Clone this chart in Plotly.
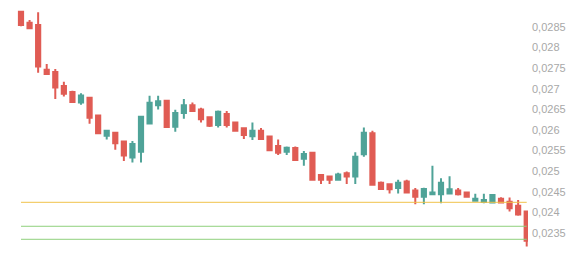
import plotly.graph_objects as go

opens  = [0.02887, 0.02860, 0.02855, 0.02746, 0.02741, 0.02707, 0.02692, 0.02667, 0.02678, 0.02635,
          0.02586, 0.02593, 0.02572, 0.02533, 0.02547, 0.02616, 0.02660, 0.02671, 0.02608, 0.02641,
          0.02660, 0.02650, 0.02631, 0.02612, 0.02639, 0.02618, 0.02604, 0.02585, 0.02598, 0.02584,
          0.02561, 0.02547, 0.02556, 0.02530, 0.02545, 0.02491, 0.02487, 0.02479, 0.02495, 0.02487,
          0.02541, 0.02592, 0.02472, 0.02468, 0.02459, 0.02475, 0.02453, 0.02438, 0.02444, 0.02444,
          0.02446, 0.02453, 0.02448, 0.02428, 0.02425, 0.02424, 0.02433, 0.02426, 0.02416, 0.02402]
highs  = [0.02889, 0.02867, 0.02886, 0.02760, 0.02748, 0.02717, 0.02695, 0.02689, 0.02679, 0.02636,
          0.02600, 0.02595, 0.02574, 0.02573, 0.02634, 0.02683, 0.02683, 0.02673, 0.02649, 0.02675,
          0.02667, 0.02654, 0.02632, 0.02647, 0.02646, 0.02620, 0.02606, 0.02618, 0.02605, 0.02586,
          0.02577, 0.02560, 0.02560, 0.02549, 0.02546, 0.02493, 0.02488, 0.02496, 0.02499, 0.02546,
          0.02606, 0.02598, 0.02475, 0.02471, 0.02479, 0.02479, 0.02459, 0.02460, 0.02513, 0.02483,
          0.02488, 0.02459, 0.02450, 0.02445, 0.02445, 0.02444, 0.02437, 0.02436, 0.02430, 0.02404]
lows   = [0.02852, 0.02845, 0.02739, 0.02734, 0.02675, 0.02681, 0.02666, 0.02661, 0.02615, 0.02590,
          0.02577, 0.02552, 0.02525, 0.02521, 0.02521, 0.02615, 0.02650, 0.02606, 0.02596, 0.02627,
          0.02644, 0.02618, 0.02607, 0.02606, 0.02606, 0.02596, 0.02578, 0.02576, 0.02576, 0.02550,
          0.02539, 0.02539, 0.02525, 0.02513, 0.02477, 0.02469, 0.02469, 0.02477, 0.02469, 0.02469,
          0.02535, 0.02465, 0.02456, 0.02446, 0.02446, 0.02446, 0.02420, 0.02420, 0.02442, 0.02422,
          0.02444, 0.02441, 0.02437, 0.02426, 0.02422, 0.02422, 0.02422, 0.02402, 0.02392, 0.02317]
closes = [0.02855, 0.02847, 0.02754, 0.02736, 0.02703, 0.02688, 0.02668, 0.02684, 0.02630, 0.02592,
          0.02598, 0.02568, 0.02538, 0.02566, 0.02632, 0.02666, 0.02670, 0.02607, 0.02641, 0.02660,
          0.02646, 0.02626, 0.02610, 0.02644, 0.02612, 0.02598, 0.02588, 0.02598, 0.02578, 0.02551,
          0.02545, 0.02557, 0.02527, 0.02542, 0.02479, 0.02479, 0.02479, 0.02492, 0.02487, 0.02535,
          0.02593, 0.02467, 0.02457, 0.02456, 0.02472, 0.02448, 0.02438, 0.02457, 0.02448, 0.02472,
          0.02456, 0.02444, 0.02438, 0.02433, 0.02430, 0.02442, 0.02424, 0.02410, 0.02395, 0.02331]
x_index = list(range(len(opens)))

levels = [0.024245, 0.023663, 0.023347]
level_colors = ["#f0c24a", "#8fd07c", "#8fd07c"]

tick_vals = [0.0235, 0.024, 0.0245, 0.025, 0.0255, 0.026, 0.0265, 0.027, 0.0275, 0.028, 0.0285]
tick_text = ["0,0235", "0,024", "0,0245", "0,025", "0,0255", "0,026", "0,0265", "0,027", "0,0275", "0,028", "0,0285"]

RED = "#e05c54"
GREEN = "#4fa398"

fig = go.Figure()
for lv, col in zip(levels, level_colors):
    fig.add_trace(go.Scatter(x=[x_index[0], x_index[-1]], y=[lv, lv], mode="lines",
                             line=dict(color=col, width=1), hoverinfo="skip", showlegend=False))

fig.add_trace(go.Candlestick(
    x=x_index, open=opens, high=highs, low=lows, close=closes,
    increasing=dict(line=dict(color=GREEN, width=2), fillcolor=GREEN),
    decreasing=dict(line=dict(color=RED, width=2), fillcolor=RED),
    showlegend=False,
))

fig.update_layout(
    width=584, height=258,
    margin=dict(l=0, r=56, t=0, b=0),
    paper_bgcolor="white", plot_bgcolor="white",
    showlegend=False,
    xaxis=dict(range=[-2.45, 59.15], visible=False, rangeslider=dict(visible=False),
               showgrid=False, zeroline=False),
    yaxis=dict(side="right", range=[0.022893, 0.029155], tickvals=tick_vals, ticktext=tick_text,
               showgrid=False, zeroline=False, showline=False, ticks="", ticklabelstandoff=3,
               tickfont=dict(family="Liberation Sans, Arial, sans-serif", size=11, color="#a8a8a8")),
)

fig.write_html("out.html")
